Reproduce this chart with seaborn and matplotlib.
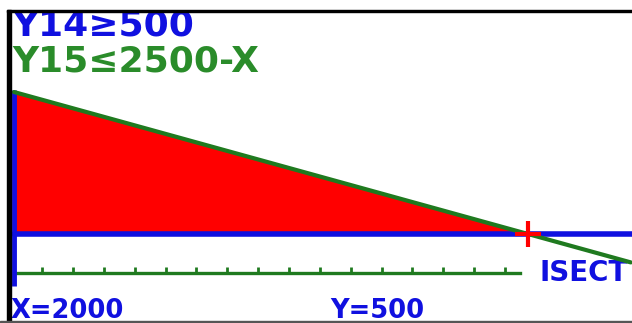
import numpy as np
import pandas as pd
import matplotlib
matplotlib.use("Agg")
import matplotlib.pyplot as plt
from matplotlib.patches import Rectangle
import seaborn as sns

x_vals = [0, 2000, 2400]            # X values along the boundary
y_upper = [2500, 500, 100]          # Y15 = 2500 - X
y_lower = 500                       # Y14 = 500
isect_x, isect_y = 2000, 500        # intersection point
xtick_vals = [110, 230, 350, 471, 590, 710, 830, 950, 1070, 1190,
              1310, 1430, 1550, 1670, 1790, 1910]
eq1 = "Y14≥500"
eq2 = "Y15≤2500-X"
label_x = "X=2000"
label_y = "Y=500"
menu = "ISECT"

BLUE = "#1010e0"
GREEN = "#1f7a1f"
TGREEN = "#2a8c2a"
RED = "#ff0000"

sns.set_style("white")
plt.rcParams['font.family'] = ['DejaVu Sans']

fig = plt.figure(figsize=(6.32, 3.23), dpi=100)
fig.patch.set_facecolor("white")
ax = fig.add_axes([0, 0, 1, 1])
ax.set_facecolor("white")
ax.set_xlim(-54.5, 2404.7)
ax.set_ylim(-753.5, 3796)

df = pd.DataFrame({"x": x_vals, "y": y_upper})
shade = df[df["x"] <= isect_x]
ax.fill_between(shade["x"], y_lower, shade["y"], color=RED, linewidth=0, zorder=1)

# blue boundary Y14 and left edge
sns.lineplot(x=[0, x_vals[-1] + 100], y=[y_lower, y_lower], ax=ax, color=BLUE,
             linewidth=4, zorder=3)
ax.plot([0, 0], [-230, 2530], color=BLUE, linewidth=3.5, zorder=3,
        solid_capstyle="butt")

# green boundary Y15
sns.lineplot(data=df, x="x", y="y", ax=ax, color=GREEN, linewidth=3, zorder=4)

# intersection cursor
ax.plot([isect_x], [isect_y], marker="+", markersize=19, mew=3,
        color=RED, zorder=6, linestyle="none")

# green x-axis with ticks
for s in ["left", "top", "right"]:
    ax.spines[s].set_visible(False)
ax.spines["bottom"].set_position(("data", -50))
ax.spines["bottom"].set_bounds(0, 1970)
ax.spines["bottom"].set_color(GREEN)
ax.spines["bottom"].set_linewidth(2.4)
ax.set_xticks(xtick_vals)
ax.set_xticklabels([])
ax.tick_params(axis="x", direction="in", length=4, width=2, color=GREEN,
               bottom=True)
ax.set_yticks([])
ax.set_xlabel("")
ax.set_ylabel("")

# texts
ax.text(12 / 632, 1 - 35 / 323, eq1, transform=ax.transAxes, color=BLUE,
        fontsize=26, fontweight="bold", va="baseline", ha="left")
ax.text(12 / 632, 1 - 72 / 323, eq2, transform=ax.transAxes, color=TGREEN,
        fontsize=26, fontweight="bold", va="baseline", ha="left")
ax.text(11 / 632, 1 - 318 / 323, label_x, transform=ax.transAxes, color=BLUE,
        fontsize=18.5, fontweight="bold", va="baseline", ha="left")
ax.text(330 / 632, 1 - 318 / 323, label_y, transform=ax.transAxes, color=BLUE,
        fontsize=18.5, fontweight="bold", va="baseline", ha="left")
ax.text(540 / 632, 1 - 281 / 323, menu, transform=ax.transAxes, color=BLUE,
        fontsize=20, fontweight="bold", va="baseline", ha="left")

# screen frame
fig.add_artist(Rectangle((7 / 632, 0), 4 / 632, 1 - 10 / 323,
                         transform=fig.transFigure, color="black", zorder=10))
fig.add_artist(Rectangle((7 / 632, 1 - 12 / 323), 1, 2 / 323,
                         transform=fig.transFigure, color="black", zorder=10))
fig.add_artist(Rectangle((0, 0), 1, 2 / 323,
                         transform=fig.transFigure, color="#555555", zorder=10))

fig.savefig("out.png", dpi=100)
